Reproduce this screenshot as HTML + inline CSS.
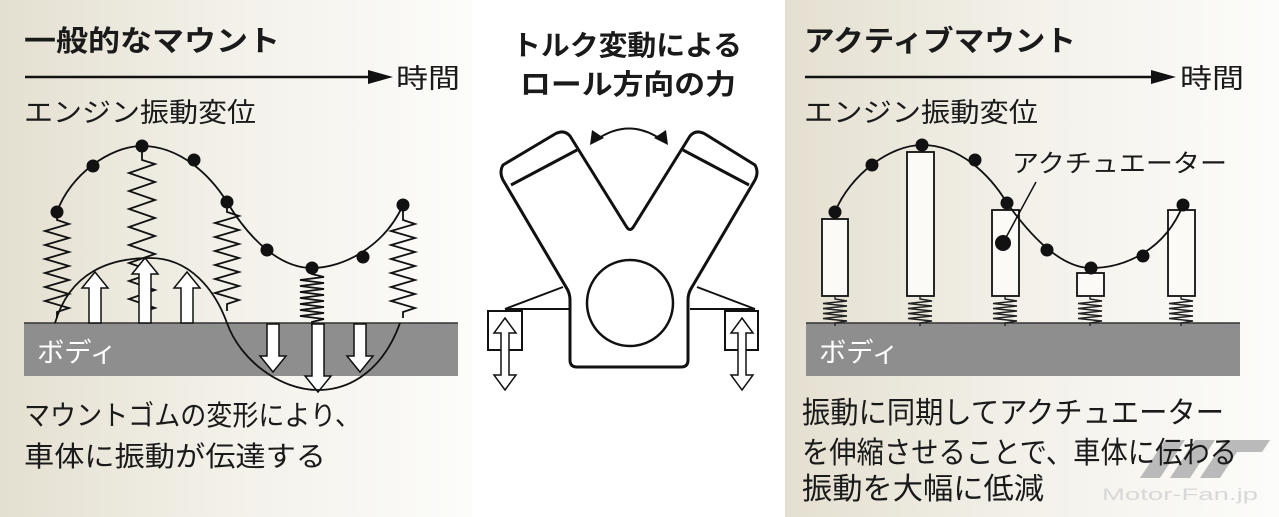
<!DOCTYPE html>
<html><head><meta charset="utf-8"><style>
html,body{margin:0;padding:0;width:1279px;height:517px;overflow:hidden;background:#fff}
svg{display:block}
text{font-family:"Liberation Sans","Noto Sans CJK JP",sans-serif;fill:#1a1a1a}
</style></head><body>
<svg width="1279" height="517" viewBox="0 0 1279 517" xmlns="http://www.w3.org/2000/svg">
<defs>
<linearGradient id="bg" x1="0" x2="1" y1="0" y2="0">
<stop offset="0" stop-color="#e4dfd0"/><stop offset="0.5" stop-color="#f3f1ea"/><stop offset="1" stop-color="#fcfcfa"/>
</linearGradient>
</defs>
<rect x="0" y="0" width="472" height="517" fill="url(#bg)"/>
<rect x="785" y="0" width="494" height="517" fill="url(#bg)"/>

<!-- LEFT PANEL -->
<text x="24" y="51" font-size="29" font-weight="bold" textLength="256" lengthAdjust="spacingAndGlyphs">一般的なマウント</text>
<line x1="25" y1="77" x2="372" y2="77" stroke="#111" stroke-width="2.5"/>
<polygon points="368,70 393,77 368,84" fill="#111"/>
<text x="396" y="88" font-size="27" textLength="64" lengthAdjust="spacingAndGlyphs">時間</text>
<text x="24" y="122" font-size="27" textLength="232" lengthAdjust="spacingAndGlyphs">エンジン振動変位</text>

<rect x="24" y="323" width="434" height="53" fill="#8e8e8e"/>
<line x1="24" y1="323" x2="458" y2="323" stroke="#333" stroke-width="1.5"/>
<text x="37" y="362" font-size="27" style="fill:#fff" textLength="80" lengthAdjust="spacingAndGlyphs">ボディ</text>

<g fill="none" stroke="#111" stroke-width="1.8" stroke-linejoin="miter">
<path d="M57,214 v6 l12,4 l-24,7 l24,7 l-24,7 l24,7 l-24,7 l24,7 l-24,7 l24,7 l-24,7 l24,7 l-24,7 l24,7 l-12,4 v6"/>
<path d="M142,146 v14 l13,4 l-26,9 l26,9 l-26,9 l26,9 l-26,9 l26,9 l-26,9 l26,9 l-26,9 l26,9 l-26,9 l26,9 l-26,9 l26,9 l-26,9 l26,9 l-13,4 v10"/>
<path d="M227,202 v10 l12,4 l-24,7 l24,7 l-24,7 l24,7 l-24,7 l24,7 l-24,7 l24,7 l-24,7 l24,7 l-24,7 l24,7 l-12,4 v7"/>
<path d="M312,268 v6 l12,3 l-24,3 l24,3 l-24,3 l24,3 l-24,3 l24,3 l-24,3 l24,3 l-24,3 l24,3 l-24,3 l24,3 l-24,3 l24,3 l-12,3 v4"/>
<path d="M403,205 v15 l12,4 l-24,7 l24,7 l-24,7 l24,7 l-24,7 l24,7 l-24,7 l24,7 l-24,7 l24,7 l-24,7 l24,7 l-12,4 v6"/>
</g>
<g fill="#fff" stroke="#111" stroke-width="1.5">
<polygon points="95,272 108,288 101,288 101,323 89,323 89,288 82,288"/>
<polygon points="145,258 158,274 151,274 151,323 139,323 139,274 132,274"/>
<polygon points="187,272 200,288 193,288 193,323 181,323 181,288 174,288"/>
<polygon points="273,372 286,356 279,356 279,324 267,324 267,356 260,356"/>
<polygon points="318,392 331,376 324,376 324,324 312,324 312,376 305,376"/>
<polygon points="360,372 373,356 366,356 366,324 354,324 354,356 347,356"/>
</g>
<path d="M55,323 C70,272 110,258 150,258 C190,258 215,290 227,323 C240,360 280,390 318,390 C355,390 385,365 400,323" fill="none" stroke="#111" stroke-width="1.8"/>
<path d="M57,212 C70,175 110,146 142,146 C180,146 210,175 227,202 C250,240 280,268 312,268 C345,268 385,245 403,205" fill="none" stroke="#111" stroke-width="1.8"/>
<g fill="#111">
<circle cx="57" cy="212" r="6.5"/><circle cx="93" cy="166" r="6.5"/><circle cx="142" cy="146" r="6.5"/><circle cx="194" cy="160" r="6.5"/><circle cx="227" cy="202" r="6.5"/><circle cx="267" cy="250" r="6.5"/><circle cx="312" cy="268" r="6.5"/><circle cx="363" cy="257" r="6.5"/><circle cx="403" cy="205" r="6.5"/>
</g>
<text x="24" y="425" font-size="28" textLength="337" lengthAdjust="spacingAndGlyphs">マウントゴムの変形により、</text>
<text x="24" y="466" font-size="28" textLength="302" lengthAdjust="spacingAndGlyphs">車体に振動が伝達する</text>

<!-- CENTER -->
<text x="512" y="55" font-size="28" font-weight="bold" textLength="230" lengthAdjust="spacingAndGlyphs">トルク変動による</text>
<text x="520" y="94" font-size="28" font-weight="bold" textLength="216" lengthAdjust="spacingAndGlyphs">ロール方向の力</text>
<path d="M596,140 Q629,117 662,140" fill="none" stroke="#111" stroke-width="2"/>
<polygon points="590,145 592,130 604,138" fill="#111"/>
<polygon points="668,145 666,130 654,138" fill="#111"/>
<g fill="none" stroke="#111" stroke-width="3" stroke-linejoin="round">
<path d="M503,165 Q499,172 503,180 L566,287 Q570,293 570,300 L570,360 Q570,367 577,367 L681,367 Q688,367 688,360 L688,300 Q688,293 692,287 L755,180 Q759,172 755,165 L705,134 Q696,129 690,136 L634,226 Q630,233 626,226 L570,136 Q564,129 555,134 Z"/>
<line x1="511" y1="185" x2="577" y2="150"/>
<line x1="683" y1="150" x2="749" y2="185"/>
<circle cx="630" cy="303" r="43" stroke-width="2.5"/>
</g>
<g fill="none" stroke="#111" stroke-width="2">
<line x1="563" y1="287" x2="505" y2="309"/><line x1="505" y1="309" x2="570" y2="309"/>
<line x1="697" y1="287" x2="755" y2="309"/><line x1="690" y1="309" x2="755" y2="309"/>
<rect x="488" y="311" width="34" height="39"/>
<rect x="725" y="311" width="33" height="39"/>
</g>
<g fill="#fff" stroke="#111" stroke-width="1.5">
<polygon points="505,318 516,333 509,333 509,375 516,375 505,390 494,375 501,375 501,333 494,333"/>
<polygon points="742,318 753,333 746,333 746,375 753,375 742,390 731,375 738,375 738,333 731,333"/>
</g>

<!-- RIGHT PANEL -->
<text x="804" y="51" font-size="29" font-weight="bold" textLength="272" lengthAdjust="spacingAndGlyphs">アクティブマウント</text>
<line x1="805" y1="77" x2="1155" y2="77" stroke="#111" stroke-width="2.5"/>
<polygon points="1151,70 1176,77 1151,84" fill="#111"/>
<text x="1180" y="88" font-size="27" textLength="64" lengthAdjust="spacingAndGlyphs">時間</text>
<text x="804" y="122" font-size="27" textLength="234" lengthAdjust="spacingAndGlyphs">エンジン振動変位</text>
<text x="1012" y="172" font-size="25" textLength="215" lengthAdjust="spacingAndGlyphs">アクチュエーター</text>

<rect x="806" y="323" width="434" height="53" fill="#8e8e8e"/>
<line x1="806" y1="323" x2="1240" y2="323" stroke="#333" stroke-width="1.5"/>
<text x="819" y="362" font-size="27" style="fill:#fff" textLength="80" lengthAdjust="spacingAndGlyphs">ボディ</text>

<g fill="#fbfaf6" stroke="#111" stroke-width="1.8">
<rect x="822" y="219" width="26" height="77"/>
<rect x="907" y="152" width="27" height="144"/>
<rect x="992" y="210" width="27" height="86"/>
<rect x="1077" y="273" width="27" height="23"/>
<rect x="1168" y="210" width="27" height="86"/>
</g>
<g fill="none" stroke="#222" stroke-width="1.4">
<path d="M835,296 v3 l12,2 l-24,2.5 l24,2.5 l-24,2.5 l24,2.5 l-24,2.5 l24,2.5 l-24,2.5 l24,2.5 l-12,2 v3"/>
<path d="M920,296 v3 l12,2 l-24,2.5 l24,2.5 l-24,2.5 l24,2.5 l-24,2.5 l24,2.5 l-24,2.5 l24,2.5 l-12,2 v3"/>
<path d="M1005,296 v3 l12,2 l-24,2.5 l24,2.5 l-24,2.5 l24,2.5 l-24,2.5 l24,2.5 l-24,2.5 l24,2.5 l-12,2 v3"/>
<path d="M1090,296 v3 l12,2 l-24,2.5 l24,2.5 l-24,2.5 l24,2.5 l-24,2.5 l24,2.5 l-24,2.5 l24,2.5 l-12,2 v3"/>
<path d="M1181,296 v3 l12,2 l-24,2.5 l24,2.5 l-24,2.5 l24,2.5 l-24,2.5 l24,2.5 l-24,2.5 l24,2.5 l-12,2 v3"/>
</g>
<path d="M835,212 C850,175 890,145 922,145 C960,145 990,175 1007,203 C1030,235 1060,268 1091,268 C1125,268 1165,250 1183,205" fill="none" stroke="#111" stroke-width="1.8"/>
<line x1="1003" y1="243" x2="1036" y2="182" stroke="#111" stroke-width="1.5"/>
<g fill="#111">
<circle cx="835" cy="212" r="6.5"/><circle cx="872" cy="165" r="6.5"/><circle cx="922" cy="145" r="6.5"/><circle cx="975" cy="160" r="6.5"/><circle cx="1007" cy="203" r="6.5"/><circle cx="1047" cy="250" r="6.5"/><circle cx="1091" cy="268" r="6.5"/><circle cx="1143" cy="256" r="6.5"/><circle cx="1183" cy="205" r="6.5"/>
<circle cx="1003" cy="243" r="8"/>
</g>

<!-- logo -->
<g fill="#b4b4b4" opacity="0.9">
<polygon points="1140,478 1165,440 1185,440 1160,478"/>
<polygon points="1170,478 1195,440 1215,440 1190,478"/>
<polygon points="1200,478 1225,440 1270,440 1262,452 1237,452 1220,478"/>
</g>
<text x="1102" y="500" font-size="17" style="fill:#d8d8d8" textLength="156" lengthAdjust="spacingAndGlyphs">Motor-Fan.jp</text>

<text x="802" y="423" font-size="30" textLength="422" lengthAdjust="spacingAndGlyphs">振動に同期してアクチュエーター</text>
<text x="802" y="463" font-size="30" textLength="435" lengthAdjust="spacingAndGlyphs">を伸縮させることで、車体に伝わる</text>
<text x="802" y="499" font-size="30" textLength="242" lengthAdjust="spacingAndGlyphs">振動を大幅に低減</text>
</svg>
</body></html>
